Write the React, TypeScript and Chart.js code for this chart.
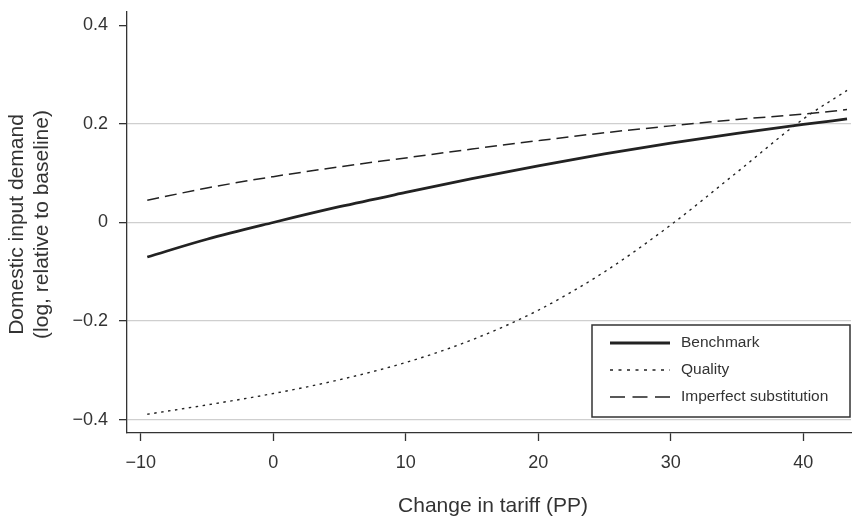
import React, { useEffect, useRef } from "react";
import { Chart, registerables } from "chart.js";

Chart.register(...registerables);

const xValues = [-9.5, -5, 0, 5, 10, 15, 20, 25, 30, 35, 40, 43.3];
const benchmark = [-0.070, -0.034, 0, 0.032, 0.061, 0.089, 0.115, 0.139, 0.161, 0.181, 0.199, 0.210];
const quality = [-0.389, -0.370, -0.347, -0.319, -0.284, -0.238, -0.178, -0.100, -0.005, 0.102, 0.210, 0.268];
const imperfect = [0.045, 0.070, 0.093, 0.113, 0.131, 0.149, 0.166, 0.182, 0.196, 0.209, 0.220, 0.229];

const seriesNames = ["Benchmark", "Quality", "Imperfect substitution"];
const xTickValues = [-10, 0, 10, 20, 30, 40];
const xTickLabels = ["\u221210", "0", "10", "20", "30", "40"];
const yTickValues = [-0.4, -0.2, 0, 0.2, 0.4];
const yTickLabels = ["\u22120.4", "\u22120.2", "0", "0.2", "0.4"];
const xTitle = "Change in tariff (PP)";
const yTitleLines = ["Domestic input demand", "(log, relative to baseline)"];

const FONT = '"Liberation Sans", Arial, Helvetica, sans-serif';
const INK = "#222222";
const AXIS = "#333333";

const overlayPlugin = {
  id: "overlay",
  afterDraw(chart: any) {
    const ctx = chart.ctx;
    const area = chart.chartArea;
    ctx.save();
    // x title
    ctx.fillStyle = AXIS;
    ctx.font = `21px ${FONT}`;
    ctx.textAlign = "center";
    ctx.textBaseline = "middle";
    ctx.fillText(xTitle, (area.left + area.right) / 2 + 4, 506);
    // y title
    ctx.save();
    ctx.translate(0, (area.top + area.bottom) / 2 + 2);
    ctx.rotate(-Math.PI / 2);
    ctx.fillText(yTitleLines[0], 0, 17);
    ctx.fillText(yTitleLines[1], 0, 42);
    ctx.restore();

    // legend
    const bx = 592, by = 325, bw = 258, bh = 92;
    ctx.fillStyle = "#ffffff";
    ctx.fillRect(bx, by, bw, bh);
    ctx.strokeStyle = "#333333";
    ctx.lineWidth = 1.5;
    ctx.strokeRect(bx, by, bw, bh);
    const rows = [343, 370, 397];
    chart.data.datasets.forEach((ds: any, i: number) => {
      ctx.beginPath();
      ctx.strokeStyle = ds.borderColor;
      ctx.lineWidth = ds.borderWidth;
      ctx.setLineDash(ds.legendDash || ds.borderDash || []);
      ctx.moveTo(610, rows[i]);
      ctx.lineTo(670, rows[i]);
      ctx.stroke();
      ctx.setLineDash([]);
      ctx.fillStyle = AXIS;
      ctx.font = `15.5px ${FONT}`;
      ctx.textAlign = "left";
      ctx.textBaseline = "middle";
      ctx.fillText(ds.label, 681, rows[i]);
    });
    ctx.restore();
  },
};

export default function App() {
  const ref = useRef<HTMLCanvasElement | null>(null);
  useEffect(() => {
    if (!ref.current) return;
    const mk = (ys: number[]) => xValues.map((x, i) => ({ x, y: ys[i] }));
    const chart = new Chart(ref.current, {
      type: "line",
      data: {
        datasets: [
          {
            label: seriesNames[0],
            data: mk(benchmark),
            borderColor: INK,
            borderWidth: 2.8,
            pointRadius: 0,
            cubicInterpolationMode: "monotone",
            fill: false,
          },
          {
            label: seriesNames[1],
            data: mk(quality),
            borderColor: INK,
            borderWidth: 1.4,
            borderDash: [2.5, 4.5],
            legendDash: [3, 5.5],
            pointRadius: 0,
            cubicInterpolationMode: "monotone",
            fill: false,
          },
          {
            label: seriesNames[2],
            data: mk(imperfect),
            borderColor: INK,
            borderWidth: 1.5,
            borderDash: [12, 6],
            legendDash: [15, 7.5],
            pointRadius: 0,
            cubicInterpolationMode: "monotone",
            fill: false,
          } as any,
        ],
      },
      options: {
        animation: false,
        responsive: false,
        maintainAspectRatio: false,
        layout: { padding: { top: 12, right: 1, left: 0, bottom: 0 } },
        plugins: { legend: { display: false }, tooltip: { enabled: false } },
        scales: {
          x: {
            type: "linear",
            position: "bottom",
            min: -11.03,
            max: 43.6,
            afterFit: (s: any) => {
              s.height = 83;
              s.paddingLeft = 0;
              s.paddingRight = 0;
            },
            afterBuildTicks: (s: any) => {
              s.ticks = xTickValues.map((v) => ({ value: v }));
            },
            grid: {
              drawOnChartArea: false,
              drawTicks: true,
              tickLength: 8,
              tickColor: AXIS,
              tickWidth: 1.3,
            },
            border: { color: AXIS, width: 1.3 },
            ticks: {
              color: AXIS,
              font: { family: FONT, size: 18 },
              padding: 11,
              maxRotation: 0,
              callback: (v: any) => {
                const i = xTickValues.indexOf(Number(v));
                return i >= 0 ? xTickLabels[i] : "";
              },
            },
          },
          y: {
            type: "linear",
            min: -0.427,
            max: 0.427,
            afterFit: (s: any) => {
              s.width = 127;
              s.paddingTop = 0;
              s.paddingBottom = 0;
            },
            afterBuildTicks: (s: any) => {
              s.ticks = yTickValues.map((v) => ({ value: v }));
            },
            grid: {
              drawOnChartArea: true,
              drawTicks: true,
              tickLength: 8,
              tickColor: AXIS,
              tickWidth: 1.3,
              lineWidth: 1.3,
              color: (c: any) =>
                c.tick && Math.abs(c.tick.value - 0.4) < 1e-9 ? "rgba(0,0,0,0)" : "#cfcfcf",
            },
            border: { color: AXIS, width: 1.3 },
            ticks: {
              color: AXIS,
              font: { family: FONT, size: 18 },
              padding: 11,
              callback: (v: any) => {
                const i = yTickValues.findIndex((t) => Math.abs(t - Number(v)) < 1e-9);
                return i >= 0 ? yTickLabels[i] : "";
              },
            },
          },
        },
      },
      plugins: [overlayPlugin],
    });
    return () => chart.destroy();
  }, []);
  return (
    <div style={{ position: "absolute", left: 0, top: 0, width: 852, height: 516, background: "#fff" }}>
      <canvas ref={ref} width={852} height={516} style={{ width: 852, height: 516, display: "block" }} />
    </div>
  );
}
